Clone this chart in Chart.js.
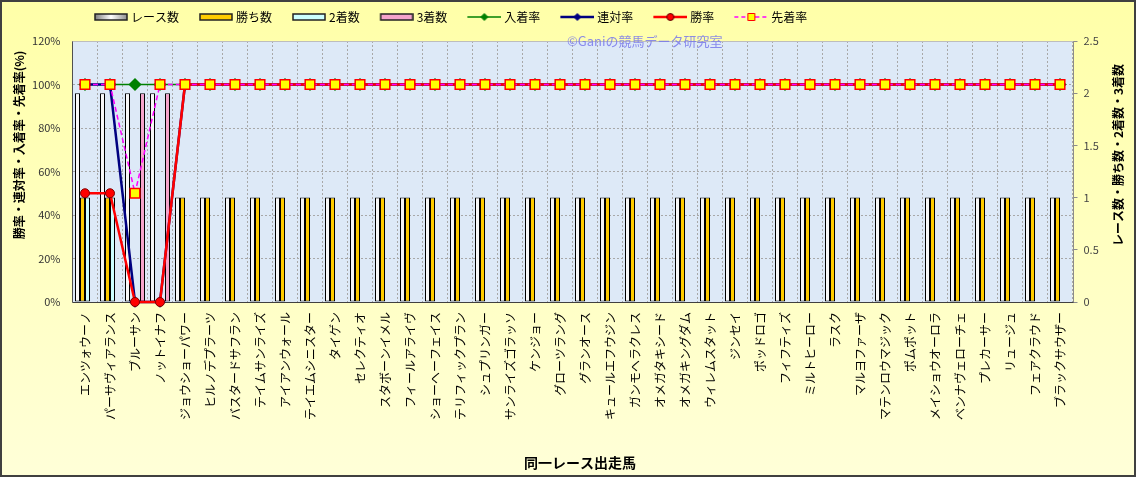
<!DOCTYPE html>
<html lang="ja">
<head>
<meta charset="UTF-8">
<title>同一レース出走馬</title>
<script src="https://cdn.jsdelivr.net/npm/chart.js@4.4.1/dist/chart.umd.min.js"></script>
<style>
  html, body { margin: 0; padding: 0; background: #fff; }
  canvas { display: block; }
</style>
</head>
<body>
<canvas id="myChart" width="1136" height="477"></canvas>
<script>
// 出走馬
const horses = ['エンツォウーノ', 'パーサヴィアランス', 'ブルーサン', 'ノットイナフ', 'ジョウショーパワー',
  'ヒルノデプラーツ', 'バスタードサフラン', 'テイムサンライズ', 'アイアンウォール', 'テイエムシニスター',
  'タイゲン', 'セレクティオ', 'スタボーンイメル', 'フィールアライヴ', 'ショーヘーフェイス',
  'テリフィックプラン', 'シュプリンガー', 'サンライズゴラッソ', 'ケンジョー', 'グローツラング',
  'グランオース', 'キュールエフウジン', 'ガンモヘラクレス', 'オメガタキシード', 'オメガキングダム',
  'ウィレムスタット', 'ジンセイ', 'ポッドロゴ', 'フィフティズ', 'ミルトヒーロー',
  'ラスク', 'マルヨファーザ', 'マテンロウマジック', 'ポムポット', 'メイショウオーロラ',
  'ベンナヴェローチェ', 'プレカーサー', 'リュージュ', 'フェアクラウド', 'ブラックサウザー'];

// 右軸 (回数)
const raceCount   = [2, 2, 2, 2, 1, 1, 1, 1, 1, 1, 1, 1, 1, 1, 1, 1, 1, 1, 1, 1, 1, 1, 1, 1, 1, 1, 1, 1, 1, 1, 1, 1, 1, 1, 1, 1, 1, 1, 1, 1];
const winCount    = [1, 1, 0, 0, 1, 1, 1, 1, 1, 1, 1, 1, 1, 1, 1, 1, 1, 1, 1, 1, 1, 1, 1, 1, 1, 1, 1, 1, 1, 1, 1, 1, 1, 1, 1, 1, 1, 1, 1, 1];
const secondCount = [1, 1, 0, 0, 0, 0, 0, 0, 0, 0, 0, 0, 0, 0, 0, 0, 0, 0, 0, 0, 0, 0, 0, 0, 0, 0, 0, 0, 0, 0, 0, 0, 0, 0, 0, 0, 0, 0, 0, 0];
const thirdCount  = [0, 0, 2, 2, 0, 0, 0, 0, 0, 0, 0, 0, 0, 0, 0, 0, 0, 0, 0, 0, 0, 0, 0, 0, 0, 0, 0, 0, 0, 0, 0, 0, 0, 0, 0, 0, 0, 0, 0, 0];

// 左軸 (%)
const placeRate    = [100, 100, 100, 100, 100, 100, 100, 100, 100, 100, 100, 100, 100, 100, 100, 100, 100, 100, 100, 100, 100, 100, 100, 100, 100, 100, 100, 100, 100, 100, 100, 100, 100, 100, 100, 100, 100, 100, 100, 100];
const rentaiRate   = [100, 100, 0, 0, 100, 100, 100, 100, 100, 100, 100, 100, 100, 100, 100, 100, 100, 100, 100, 100, 100, 100, 100, 100, 100, 100, 100, 100, 100, 100, 100, 100, 100, 100, 100, 100, 100, 100, 100, 100];
const winRate      = [50, 50, 0, 0, 100, 100, 100, 100, 100, 100, 100, 100, 100, 100, 100, 100, 100, 100, 100, 100, 100, 100, 100, 100, 100, 100, 100, 100, 100, 100, 100, 100, 100, 100, 100, 100, 100, 100, 100, 100];
const senchakuRate = [100, 100, 50, 100, 100, 100, 100, 100, 100, 100, 100, 100, 100, 100, 100, 100, 100, 100, 100, 100, 100, 100, 100, 100, 100, 100, 100, 100, 100, 100, 100, 100, 100, 100, 100, 100, 100, 100, 100, 100];

const rightTicks = [0, 0.5, 1, 1.5, 2, 2.5];

const jp = '"Noto Sans CJK JP", "Noto Sans", sans-serif';
Chart.defaults.font.family = jp;
Chart.defaults.color = '#000';

// 0 の棒は描かない
const bars = arr => arr.map(v => v === 0 ? null : v);

// 凡例のマーク (Excel風)
function swatch(kind, fill, line, marker) {
  const c = document.createElement('canvas');
  c.width = 45; c.height = 12;
  const g = c.getContext('2d');
  if (kind === 'bar') {
    if (fill === 'race') {
      const gr = g.createLinearGradient(11, 0, 45, 0);
      gr.addColorStop(0, '#777'); gr.addColorStop(0.5, '#fff'); gr.addColorStop(1, '#888');
      g.fillStyle = gr;
    } else {
      g.fillStyle = fill;
    }
    g.fillRect(12, 3, 32, 6);
    g.strokeStyle = '#222'; g.lineWidth = 1.5;
    g.strokeRect(12, 3, 32, 6);
  } else {
    g.strokeStyle = line.color; g.lineWidth = line.width;
    if (line.dash) g.setLineDash(line.dash);
    g.beginPath(); g.moveTo(11, 6); g.lineTo(45, 6); g.stroke();
    g.setLineDash([]);
    g.fillStyle = marker.fill; g.strokeStyle = marker.stroke; g.lineWidth = 1;
    g.beginPath();
    if (marker.shape === 'diamond') {
      g.moveTo(28, 2.5); g.lineTo(31.5, 6); g.lineTo(28, 9.5); g.lineTo(24.5, 6); g.closePath();
    } else if (marker.shape === 'circle') {
      g.arc(28, 6, 3.5, 0, Math.PI * 2);
    } else {
      g.rect(24.5, 2.5, 7, 7);
    }
    g.fill(); g.stroke();
  }
  return c;
}

const swatches = [
  swatch('bar', 'race'),
  swatch('bar', '#ffcc00'),
  swatch('bar', '#ccffff'),
  swatch('bar', '#f5a3cb'),
  swatch('line', null, {color: '#008000', width: 1.5}, {shape: 'diamond', fill: '#008000', stroke: '#008000'}),
  swatch('line', null, {color: '#000080', width: 2.5}, {shape: 'diamond', fill: '#000080', stroke: '#000080'}),
  swatch('line', null, {color: '#ff0000', width: 2.5}, {shape: 'circle', fill: '#ff0000', stroke: '#600000'}),
  swatch('line', null, {color: '#ff00ff', width: 1.5, dash: [4, 3]}, {shape: 'square', fill: '#ffff00', stroke: '#ff0000'})
];

function vText(ctx, text, x, y, font) {
  ctx.save();
  ctx.translate(x, y);
  ctx.rotate(-Math.PI / 2);
  ctx.font = font;
  ctx.textAlign = 'center';
  ctx.textBaseline = 'middle';
  ctx.fillStyle = '#000';
  ctx.fillText(text, 0, 0);
  ctx.restore();
}

// 背景・枠・タイトル
const frame = {
  id: 'frame',
  afterLayout(chart) {
    const lg = chart.legend;
    if (lg) { lg.left = 74; lg.top = -1; }
  },
  beforeDraw(chart) {
    const {ctx, width, height, chartArea: a} = chart;
    ctx.save();
    const bg = ctx.createLinearGradient(0, 0, 0, height);
    bg.addColorStop(0, '#ffffa8');
    bg.addColorStop(1, '#ffffd8');
    ctx.fillStyle = bg;
    ctx.fillRect(0, 0, width, height);
    ctx.fillStyle = '#dde9f7';
    ctx.fillRect(a.left, a.top, a.right - a.left, a.bottom - a.top);
    ctx.restore();
  },
  beforeDatasetsDraw(chart) {
    const {ctx, chartArea: a} = chart;
    const l = Math.floor(a.left) + 0.5, r = Math.round(a.right) + 0.5;
    const t = Math.floor(a.top) + 0.5, b = Math.round(a.bottom) + 0.5;
    ctx.save();
    ctx.lineWidth = 1;
    const seg = (x1, y1, x2, y2, c) => {
      ctx.strokeStyle = c; ctx.beginPath(); ctx.moveTo(x1, y1); ctx.lineTo(x2, y2); ctx.stroke();
    };
    seg(l, t, r, t, '#bdbdbd');
    seg(r, t, r, b, '#8c8c8c');
    seg(l, t, l, b, '#505050');
    seg(l, b, r, b, '#404040');
    ctx.restore();
  },
  afterDraw(chart) {
    const {ctx, width, height} = chart;
    vText(ctx, '勝率・連対率・入着率・先着率(%)', 19, 145, 'bold 12px ' + jp);
    vText(ctx, 'レース数・勝ち数・2着数・3着数', 1118, 155, 'bold 12px ' + jp);
    ctx.save();
    ctx.font = 'bold 14px ' + jp;
    ctx.textAlign = 'center';
    ctx.textBaseline = 'middle';
    ctx.fillStyle = '#000';
    ctx.fillText('同一レース出走馬', 580, 463);
    ctx.font = '13px ' + jp;
    ctx.textAlign = 'left';
    ctx.fillStyle = 'rgba(120, 120, 235, 0.85)';
    ctx.fillText('©Ganiの競馬データ研究室', 567, 41);
    ctx.strokeStyle = '#404040';
    ctx.lineWidth = 2;
    ctx.strokeRect(1, 1, width - 2, height - 2);
    ctx.restore();
  }
};

const barBase = {type: 'bar', yAxisID: 'y1', borderColor: '#000', borderWidth: 1,
  categoryPercentage: 0.8, barPercentage: 1.0, borderSkipped: false};

new Chart(document.getElementById('myChart'), {
  type: 'bar',
  data: {
    labels: horses,
    datasets: [
      Object.assign({}, barBase, {label: 'レース数', data: bars(raceCount), backgroundColor: '#f8f8f8', order: 5}),
      Object.assign({}, barBase, {label: '勝ち数', data: bars(winCount), backgroundColor: '#ffcc00', order: 6}),
      Object.assign({}, barBase, {label: '2着数', data: bars(secondCount), backgroundColor: '#ccffff', order: 7}),
      Object.assign({}, barBase, {label: '3着数', data: bars(thirdCount), backgroundColor: '#f5a3cb', order: 8}),
      {
        type: 'line', label: '入着率', data: placeRate, yAxisID: 'y', order: 4, clip: false,
        borderColor: '#008000', borderWidth: 1.5, tension: 0,
        pointStyle: 'rectRot', pointRadius: 5.5, pointBackgroundColor: '#008000', pointBorderColor: '#008000'
      },
      {
        type: 'line', label: '連対率', data: rentaiRate, yAxisID: 'y', order: 3, clip: false,
        borderColor: '#000080', borderWidth: 2.5, tension: 0,
        pointStyle: 'rectRot', pointRadius: 4, pointBackgroundColor: '#000080', pointBorderColor: '#000080'
      },
      {
        type: 'line', label: '勝率', data: winRate, yAxisID: 'y', order: 2, clip: false,
        borderColor: '#ff0000', borderWidth: 2.5, tension: 0,
        pointStyle: 'circle', pointRadius: 4.5, pointBackgroundColor: '#ff0000', pointBorderColor: '#800000', pointBorderWidth: 1
      },
      {
        type: 'line', label: '先着率', data: senchakuRate, yAxisID: 'y', order: 1, clip: false,
        borderColor: '#ff00ff', borderWidth: 1.5, borderDash: [5, 3], tension: 0,
        pointStyle: 'rect', pointRadius: 6.8, pointBackgroundColor: '#ffff00', pointBorderColor: '#ff0000', pointBorderWidth: 1.5
      }
    ]
  },
  options: {
    responsive: false,
    animation: false,
    layout: {padding: {top: 7, left: 0, right: 0, bottom: 0}},
    scales: {
      x: {
        afterFit: s => { s.height = 175; },
        grid: {offset: true, color: '#a8a8a8', drawTicks: false},
        border: {display: false, dash: [2, 2]},
        ticks: {autoSkip: false, minRotation: 90, maxRotation: 90, padding: 10, font: {size: 12}, color: '#000'}
      },
      y: {
        position: 'left',
        min: 0, max: 120,
        afterFit: s => { s.width = 72.5; },
        grid: {color: '#a8a8a8', drawTicks: false},
        border: {display: false, dash: [2, 2]},
        ticks: {stepSize: 20, padding: 12, font: {size: 11}, color: '#333', callback: v => v + '%'}
      },
      y1: {
        position: 'right',
        min: 0, max: 2.5,
        afterFit: s => { s.width = 63.5; },
        afterBuildTicks: s => { s.ticks = rightTicks.map(v => ({value: v})); },
        grid: {drawOnChartArea: false, drawTicks: true, tickLength: 5, color: '#8c8c8c'},
        border: {display: false},
        ticks: {padding: 6, font: {size: 11}, color: '#444', callback: v => String(v)}
      }
    },
    plugins: {
      tooltip: {enabled: false},
      legend: {
        display: true,
        position: 'top',
        align: 'start',
        labels: {
          usePointStyle: true,
          pointStyleWidth: 39,
          padding: 12,
          font: {size: 12},
          color: '#000',
          sort: (a, b) => a.datasetIndex - b.datasetIndex,
          generateLabels: chart => {
            const items = Chart.defaults.plugins.legend.labels.generateLabels(chart);
            items.forEach(it => { it.pointStyle = swatches[it.datasetIndex]; it.rotation = 0; });
            return items;
          }
        }
      }
    }
  },
  plugins: [frame]
});
</script>
</body>
</html>
